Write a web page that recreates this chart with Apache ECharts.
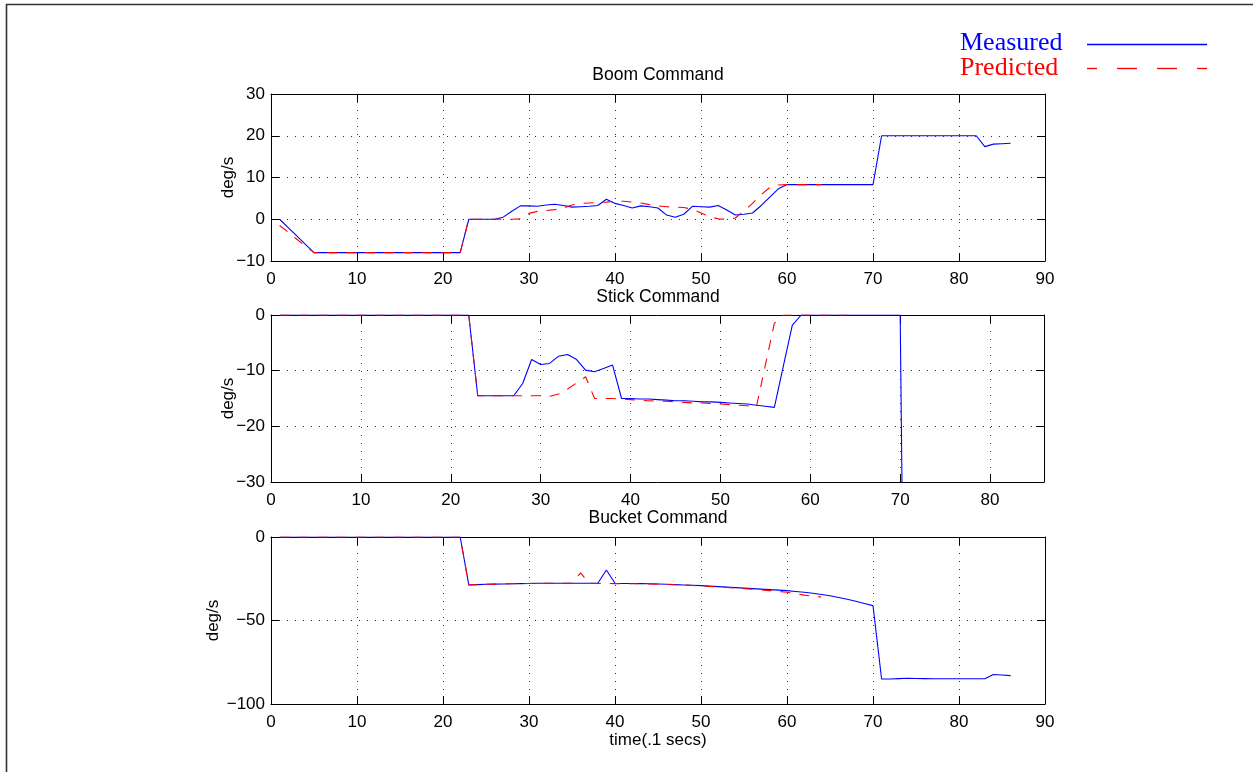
<!DOCTYPE html>
<html><head><meta charset="utf-8">
<script src="https://cdn.jsdelivr.net/npm/echarts@6/dist/echarts.min.js"></script>
<style>html,body{margin:0;padding:0;background:#fff}#c{width:1253px;height:772px}</style>
</head><body><div id="c"></div><script>
// time axis (units of 0.1 s)
const time = [
  1,2,3,4,5,6,7,8,9,10,
  11,12,13,14,15,16,17,18,19,20,
  21,22,23,24,25,26,27,28,29,30,
  31,32,33,34,35,36,37,38,39,40,
  41,42,43,44,45,46,47,48,49,50,
  51,52,53,54,55,56,57,58,59,60,
  61,62,63,64,65,66,67,68,69,70,
  71,72,73,74,75,76,77,78,79,80,
  81,82,83,84,85,86
];

const boomMeasured = [
  0,-2,-4,-6,-8,-8,-8,-8,-8,-8,
  -8,-8,-8,-8,-8,-8,-8,-8,-8,-8,
  -8,-8,0,0,0,0,0.5,1.9,3.2,3.2,
  3.1,3.4,3.6,3.3,2.9,3.0,3.1,3.3,4.8,3.8,
  3.3,2.7,3.2,3.0,2.7,1.0,0.5,1.2,3.1,3.0,
  2.9,3.3,2.2,1.0,1.2,1.5,3.3,5.3,7.3,8.3,
  8.3,8.3,8.3,8.3,8.3,8.3,8.3,8.3,8.3,8.3,
  20,20,20,20,20,20,20,20,20,20,
  20,20,17.4,18.0,18.1,18.2
];
const boomPredicted = [
  -1.5,-3.1,-4.8,-6.4,-8,-8,-8,-8,-8,-8,
  -8,-8,-8,-8,-8,-8,-8,-8,-8,-8,
  -8,-8,0,0,0,0,0,0,0.1,1.4,
  1.9,2.1,2.3,2.7,3.4,3.8,3.9,4.0,4.1,4.3,
  4.3,4.1,3.9,3.5,3.2,3.0,2.9,2.8,2.4,1.5,
  0.6,0.1,0,0.3,2.0,3.8,5.9,7.6,8.2,8.3,
  8.3,8.3,8.3,8.3
];

const stickMeasured = [
  0,0,0,0,0,0,0,0,0,0,
  0,0,0,0,0,0,0,0,0,0,
  0,0,-14.5,-14.5,-14.5,-14.5,-14.5,-12.3,-8.0,-8.9,
  -8.7,-7.4,-7.1,-8.0,-9.9,-10.2,-9.6,-9.0,-15.0,-15.0,
  -15.1,-15.1,-15.2,-15.3,-15.4,-15.4,-15.5,-15.6,-15.6,-15.7,
  -15.8,-15.9,-16.0,-16.2,-16.4,-16.6,-9.2,-1.8,0,0,
  0,0,0,0,0,0,0,0,0,0,
  -150,-150,-150,-150,-150,-150,-150,-150,-150,-150,
  -150,-150,-150,-150,-150,-150
];
const stickPredicted = [
  0,0,0,0,0,0,0,0,0,0,
  0,0,0,0,0,0,0,0,0,0,
  0,0,-14.5,-14.5,-14.5,-14.5,-14.5,-14.5,-14.5,-14.5,
  -14.6,-14.2,-13.3,-12.2,-11.1,-15.0,-15.0,-15.0,-15.1,-15.2,
  -15.3,-15.4,-15.5,-15.5,-15.6,-15.7,-15.8,-15.8,-15.9,-16.0,
  -16.1,-16.2,-16.3,-16.5,-9.0,-1.5,0,0,0,0,
  0,0,0,0
];

const bucketMeasured = [
  0,0,0,0,0,0,0,0,0,0,
  0,0,0,0,0,0,0,0,0,0,
  0,0,-28.7,-28.5,-28.3,-28.2,-28.1,-28.0,-27.9,-27.8,
  -27.7,-27.7,-27.7,-27.7,-27.7,-27.7,-27.7,-27.7,-19.8,-27.7,
  -27.8,-27.8,-27.9,-28.0,-28.1,-28.3,-28.5,-28.7,-28.9,-29.1,
  -29.4,-29.7,-30.0,-30.3,-30.6,-30.9,-31.2,-31.5,-31.8,-32.1,
  -32.6,-33.1,-33.7,-34.4,-35.2,-36.2,-37.3,-38.5,-39.8,-41.1,
  -85.0,-85.0,-84.8,-84.6,-84.7,-84.8,-84.9,-84.9,-84.9,-84.9,
  -84.9,-84.9,-84.9,-82.3,-82.6,-83.0
];
const bucketPredicted = [
  0,0,0,0,0,0,0,0,0,0,
  0,0,0,0,0,0,0,0,0,0,
  0,0,-28.7,-28.5,-28.3,-28.2,-28.1,-28.0,-27.9,-27.8,
  -27.7,-27.7,-27.7,-27.7,-27.7,-21.5,-27.7,-27.8,-27.8,-27.9,
  -27.9,-28.0,-28.0,-28.1,-28.2,-28.4,-28.6,-28.8,-29.0,-29.3,
  -29.6,-29.9,-30.2,-30.5,-30.9,-31.3,-31.7,-32.1,-32.6,-33.1,
  -33.9,-34.8,-35.4,-35.9
];

// tick labels
const boomXTicks = [0,10,20,30,40,50,60,70,80,90];
const stickXTicks = [0,10,20,30,40,50,60,70,80];
const bucketXTicks = [0,10,20,30,40,50,60,70,80,90];
const boomYTicks = [-10,0,10,20,30];
const stickYTicks = [-30,-20,-10,0];
const bucketYTicks = [-100,-50,0];

const titles = ['Boom Command','Stick Command','Bucket Command'];
const seriesNames = ['Measured','Predicted'];
const yAxisTitle = 'deg/s';
const xAxisTitle = 'time(.1 secs)';

const FONT = '"Liberation Sans", Arial, Helvetica, sans-serif';
const SERIF = '"Liberation Serif", "Times New Roman", serif';
const fmt = v => String(v).replace('-', '\u2212');

const panels = [
  {title:titles[0], top:94, width:774, xmax:90, xTicks:boomXTicks, yTicks:boomYTicks, meas:boomMeasured, pred:boomPredicted, titleY:75, nameX:228},
  {title:titles[1], top:315, width:773, xmax:86, xTicks:stickXTicks, yTicks:stickYTicks, meas:stickMeasured, pred:stickPredicted, titleY:297, nameX:228},
  {title:titles[2], top:537, width:774, xmax:90, xTicks:bucketXTicks, yTicks:bucketYTicks, meas:bucketMeasured, pred:bucketPredicted, titleY:518, nameX:213}
];

const grid = [], xAxis = [], yAxis = [], series = [], graphic = [];
const splitStyle = {color:'#333', width:1, type:[1,7]};
panels.forEach((p, i) => {
  grid.push({left:271, top:p.top, width:p.width, height:167, containLabel:false});
  const xint = p.xTicks[1]-p.xTicks[0];
  const yint = p.yTicks[1]-p.yTicks[0];
  const ymin = p.yTicks[0], ymax = p.yTicks[p.yTicks.length-1];
  xAxis.push({
    type:'value', gridIndex:i, min:0, max:p.xmax, interval:xint, position:'bottom',
    name: i===2 ? xAxisTitle : '', nameLocation:'middle', nameGap:28,
    nameTextStyle:{color:'#000', fontSize:17, fontFamily:FONT, verticalAlign:'top'},
    axisLine:{show:true, onZero:false, lineStyle:{color:'#000', width:1}},
    axisTick:{show:true, inside:true, length:8, lineStyle:{color:'#000', width:1}},
    axisLabel:{show:true, margin:10, color:'#000', fontSize:17, fontFamily:FONT,
      showMaxLabel: p.xTicks.indexOf(p.xmax) >= 0, showMinLabel:true,
      formatter: v => p.xTicks.indexOf(v) >= 0 ? fmt(v) : ''},
    splitLine:{show:true, lineStyle:splitStyle}
  });
  xAxis.push({
    type:'value', gridIndex:i, min:0, max:p.xmax, interval:xint, position:'top',
    axisLine:{show:true, onZero:false, lineStyle:{color:'#000', width:1}},
    axisTick:{show:true, inside:true, length:8, lineStyle:{color:'#000', width:1}},
    axisLabel:{show:false}, splitLine:{show:false}
  });
  yAxis.push({
    type:'value', gridIndex:i, min:ymin, max:ymax, interval:yint, position:'left',
    axisLine:{show:true, onZero:false, lineStyle:{color:'#000', width:1}},
    axisTick:{show:true, inside:true, length:8, lineStyle:{color:'#000', width:1}},
    axisLabel:{show:true, margin:6, color:'#000', fontSize:17, fontFamily:FONT, formatter: v => fmt(v)},
    splitLine:{show:true, lineStyle:splitStyle}
  });
  yAxis.push({
    type:'value', gridIndex:i, min:ymin, max:ymax, interval:yint, position:'right',
    axisLine:{show:true, onZero:false, lineStyle:{color:'#000', width:1}},
    axisTick:{show:true, inside:true, length:8, lineStyle:{color:'#000', width:1}},
    axisLabel:{show:false}, splitLine:{show:false}
  });
  series.push({
    name:seriesNames[0], type:'line', xAxisIndex:2*i, yAxisIndex:2*i,
    data:p.meas.map((v,k) => [time[k], v]),
    showSymbol:false, symbol:'none', clip:true,
    lineStyle:{color:'#0000ff', width:1.1, type:'solid'}, itemStyle:{color:'#0000ff'}
  });
  series.push({
    name:seriesNames[1], type:'line', xAxisIndex:2*i, yAxisIndex:2*i,
    data:p.pred.map((v,k) => [time[k], v]),
    showSymbol:false, symbol:'none', clip:true,
    lineStyle:{color:'#ff0000', width:1.1, type:[10,9]}, itemStyle:{color:'#ff0000'}
  });
  graphic.push({type:'text', x:658, y:p.titleY, style:{text:p.title, fill:'#000',
    font:'17.5px ' + FONT, textAlign:'center', textVerticalAlign:'middle'}});
  graphic.push({type:'text', x:p.nameX, y:p.top + 83.5, rotation:Math.PI/2, style:{text:yAxisTitle, fill:'#000',
    font:'17px ' + FONT, textAlign:'center', textVerticalAlign:'middle'}});
});

// figure border (top + left)
graphic.push({type:'polyline', shape:{points:[[6.5,772],[6.5,4.5],[1253,4.5]]},
  style:{stroke:'#333', lineWidth:1.6, fill:null}});
// legend
graphic.push({type:'text', x:960, y:43, style:{text:seriesNames[0], fill:'#0000ff',
  font:'26px ' + SERIF, textAlign:'left', textVerticalAlign:'middle'}});
graphic.push({type:'text', x:960, y:68.5, style:{text:seriesNames[1], fill:'#ff0000',
  font:'26px ' + SERIF, textAlign:'left', textVerticalAlign:'middle'}});
graphic.push({type:'line', shape:{x1:1087, y1:44.5, x2:1207, y2:44.5},
  style:{stroke:'#0000ff', lineWidth:1.3}});
graphic.push({type:'line', shape:{x1:1087, y1:68.5, x2:1207, y2:68.5},
  style:{stroke:'#ff0000', lineWidth:1.3, lineDash:[20,20], lineDashOffset:10}});

const chart = echarts.init(document.getElementById('c'), null, {renderer:'canvas'});
chart.setOption({
  animation:false, backgroundColor:'#fff',
  grid, xAxis, yAxis, series, graphic
});
</script></body></html>
